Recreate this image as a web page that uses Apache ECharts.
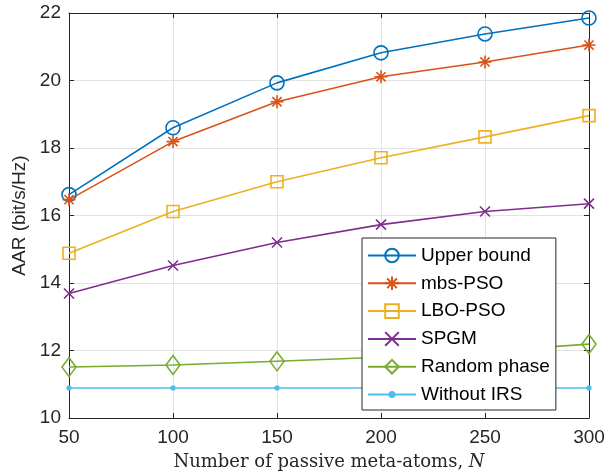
<!DOCTYPE html>
<html>
<head>
<meta charset="utf-8">
<script src="https://cdn.jsdelivr.net/npm/echarts@6/dist/echarts.min.js"></script>
<style>html,body{margin:0;padding:0;background:#fff;}#c{width:612px;height:476px;}</style>
</head>
<body>
<div id="c"></div>
<script>
const xValues = [50, 100, 150, 200, 250, 300];
const upperBound = [16.62, 18.60, 19.93, 20.82, 21.38, 21.85];
const mbsPSO = [16.47, 18.19, 19.37, 20.11, 20.55, 21.05];
const lboPSO = [14.88, 16.12, 17.00, 17.71, 18.33, 18.96];
const spgm = [13.69, 14.52, 15.20, 15.73, 16.12, 16.35];
const randomPhase = [11.51, 11.57, 11.68, 11.80, 11.98, 12.19];
const withoutIRS = [10.89, 10.89, 10.89, 10.89, 10.89, 10.89];
const seriesNames = ['Upper bound', 'mbs-PSO', 'LBO-PSO', 'SPGM', 'Random phase', 'Without IRS'];
const xTicks = [50, 100, 150, 200, 250, 300];
const yTicks = [10, 12, 14, 16, 18, 20, 22];

const colors = ['#0072BD', '#D95319', '#EDB120', '#7E2F8E', '#77AC30', '#4DBEEE'];
const asterisk = 'path://M0,-10L0,10M-10,0L10,0M-7.07,-7.07L7.07,7.07M-7.07,7.07L7.07,-7.07';
const cross = 'path://M-10,-10L10,10M-10,10L10,-10';
const dot = 'path://M-5,-5M5,5M-2.6,0A2.6,2.6,0,1,1,2.6,0A2.6,2.6,0,1,1,-2.6,0Z';
const symbols = ['circle', asterisk, 'rect', cross, 'diamond', dot];
const sizes = [14, 13, 12, 10, [14, 19], 10];
const dataSets = [upperBound, mbsPSO, lboPSO, spgm, randomPhase, withoutIRS];

const series = dataSets.map((d, i) => {
  const filled = i === 5;
  return {
    name: seriesNames[i],
    type: 'line',
    data: d.map((v, k) => [xValues[k], v]),
    symbol: symbols[i],
    symbolSize: sizes[i],
    showAllSymbol: true,
    lineStyle: { color: colors[i], width: 1.6 },
    itemStyle: {
      color: filled ? colors[i] : 'rgba(0,0,0,0)',
      borderColor: colors[i],
      borderWidth: filled ? 0 : 1.6
    },
    emphasis: { disabled: true },
    animation: false,
    z: 2
  };
});

const axisColor = '#262626';
const fontSans = 'Liberation Sans, Arial, Helvetica, sans-serif';
const fontSerif = 'DejaVu Serif, Liberation Serif, serif';

const chart = echarts.init(document.getElementById('c'), null, { renderer: 'canvas' });
chart.setOption({
  animation: false,
  backgroundColor: '#fff',
  grid: { left: 69, right: 23, top: 13, bottom: 57, containLabel: false },
  xAxis: [{
    type: 'value', min: xTicks[0], max: xTicks[xTicks.length - 1], interval: 50,
    name: '{n|Number of passive meta-atoms, }{i|N}',
    nameLocation: 'middle', nameGap: 35,
    nameTextStyle: {
      rich: {
        n: { fontFamily: fontSerif, fontSize: 18, color: axisColor },
        i: { fontFamily: fontSerif, fontSize: 18, fontStyle: 'italic', color: axisColor }
      }
    },
    axisLine: { show: true, lineStyle: { color: axisColor, width: 1 } },
    axisTick: { show: true, inside: true, length: 5, lineStyle: { color: axisColor } },
    axisLabel: { fontSize: 19, fontFamily: fontSans, color: axisColor, margin: 10 },
    splitLine: { show: true, lineStyle: { color: '#e3e3e3', width: 1 } }
  }, {
    type: 'value', position: 'top', min: 50, max: 300, interval: 50,
    axisLine: { show: true, lineStyle: { color: axisColor, width: 1 } },
    axisTick: { show: true, inside: true, length: 5, lineStyle: { color: axisColor } },
    axisLabel: { show: false }, splitLine: { show: false }
  }],
  yAxis: [{
    type: 'value', min: yTicks[0], max: yTicks[yTicks.length - 1], interval: 2,
    name: 'AAR (bit/s/Hz)', nameLocation: 'middle', nameGap: 38,
    nameTextStyle: { fontSize: 19, fontFamily: fontSans, color: axisColor },
    axisLine: { show: true, lineStyle: { color: axisColor, width: 1 } },
    axisTick: { show: true, inside: true, length: 5, lineStyle: { color: axisColor } },
    axisLabel: { fontSize: 19, fontFamily: fontSans, color: axisColor, margin: 8 },
    splitLine: { show: true, lineStyle: { color: '#e3e3e3', width: 1 } }
  }, {
    type: 'value', position: 'right', min: 10, max: 22, interval: 2,
    axisLine: { show: true, lineStyle: { color: axisColor, width: 1 } },
    axisTick: { show: true, inside: true, length: 5, lineStyle: { color: axisColor } },
    axisLabel: { show: false }, splitLine: { show: false }
  }],
  legend: {
    data: seriesNames,
    orient: 'vertical',
    left: 362, top: 238,
    itemWidth: 48, itemHeight: 17, itemGap: 8.8,
    padding: [8, 6, 6, 5],
    backgroundColor: '#fff',
    borderColor: axisColor, borderWidth: 1,
    textStyle: { fontSize: 19, lineHeight: 17, fontFamily: fontSans, color: '#000' },
    selectedMode: false,
    z: 20
  },
  series: series
});
</script>
</body>
</html>
